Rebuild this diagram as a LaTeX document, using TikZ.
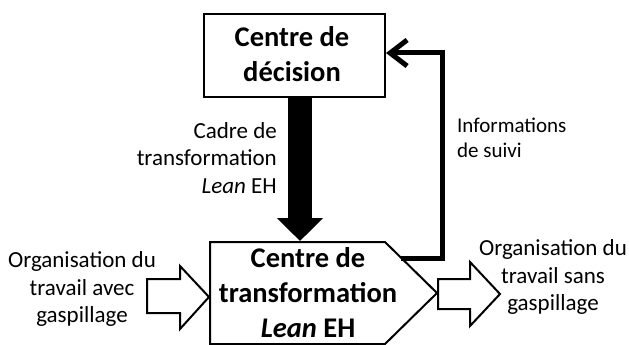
\documentclass[tikz,border=0pt]{standalone}
\usepackage{fontspec}
\setmainfont{Carlito}
\usetikzlibrary{arrows.meta}
\tikzset{
  boxline/.style={draw=black,line width=2pt},
  lbl/.style={inner sep=0pt,font=\fontsize{23}{27.5}\selectfont},
  small/.style={inner sep=0pt,font=\fontsize{21}{25}\selectfont},
  bigtxt/.style={inner sep=0pt,font=\bfseries\fontsize{28.5}{35}\selectfont,align=center},
  blockarrow/.style={draw=black,fill=white,line width=2pt,line join=miter},
}
\begin{document}
\begin{tikzpicture}[x=1pt,y=-1pt]
\useasboundingbox (0,0) rectangle (629,345);
% top box
\node[boxline,minimum width=181pt,minimum height=83pt,inner sep=0pt] (dec) at (294.5,55.5) {};
\node[bigtxt] (dect) at (292,54.2) {Centre de\\décision};
% bottom pentagon
\coordinate (p1) at (210,242);
\coordinate (p2) at (385,242);
\coordinate (tip) at (437,293);
\coordinate (p4) at (385,344);
\coordinate (p5) at (210,344);
\draw[boxline,line join=miter] (p1) -- (p2) -- (tip) -- (p4) -- (p5) -- cycle;
\node[bigtxt] (tra) at (308,292.7) {Centre de\\transformation\\\textit{Lean} EH};
% thick arrow
\coordinate (topin) at (300,241);
\draw[line width=24pt,-{Triangle[length=23pt,width=45pt]}] (dec.south -| topin) -- (topin);
% feedback
\coordinate (fbs) at (401,258);
\coordinate (fbc) at (442,53);
\draw[line width=5pt,line join=miter,-{Straight Barb[length=17pt,width=26pt]}] (fbs) -| (fbc) -- (dec.east |- fbc);
% left block arrow
\draw[blockarrow] (147,279) -- (180,279) -- (180,266) -- (209,297) -- (180,329) -- (180,313) -- (147,313) -- cycle;
% right block arrow
\draw[blockarrow] (438,279) -- (470,279) -- (470,262) -- (500,294) -- (470,326) -- (470,309) -- (438,309) -- cycle;
% labels
\node[lbl,align=center] (lin) at (82,289) {Organisation du\\travail avec\\gaspillage};
\node[lbl,align=center] (lout) at (553,277) {Organisation du\\travail sans\\gaspillage};
\node[lbl,align=right,anchor=east] (lcad) at (277,158) {Cadre de\\transformation\\\textit{Lean} EH};
\node[small,align=left,anchor=west] (linf) at (457,138.3) {Informations\\de suivi};
\end{tikzpicture}
\end{document}
